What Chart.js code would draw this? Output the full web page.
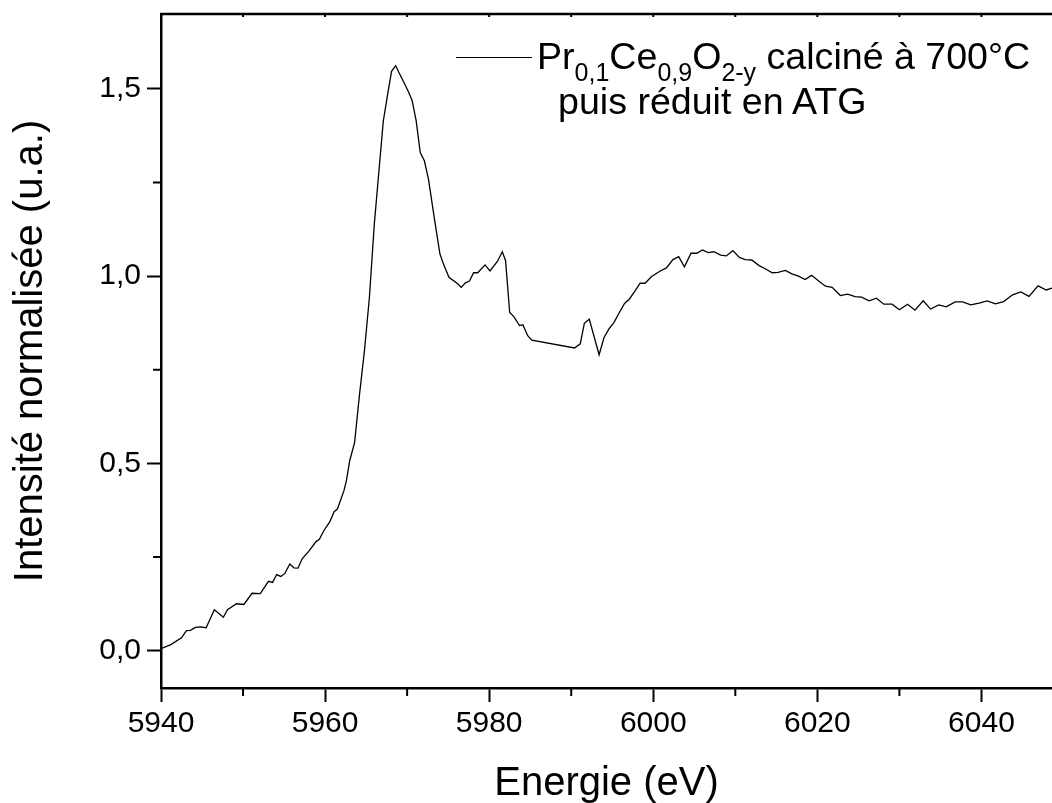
<!DOCTYPE html>
<html lang="fr">
<head>
<meta charset="utf-8">
<script src="https://cdn.jsdelivr.net/npm/chart.js@4.4.1/dist/chart.umd.min.js"></script>
<style>
html, body { margin: 0; padding: 0; background: #fff; overflow: hidden; }
#wrap { position: relative; width: 1052px; height: 803px; }
#legend {
    position: absolute; left: 456px; top: 34px;
    font-family: 'Liberation Sans', Arial, sans-serif; font-size: 37.6px; color: #000;
    line-height: 45px; white-space: nowrap;
}
#legend .sample { display: inline-block; width: 76px; height: 0; border-top: 1.3px solid #000; vertical-align: middle; margin-right: 5px; position: relative; top: -2px; }
#legend sub { font-size: 25px; vertical-align: -12px; line-height: 0; }
#legend .l2 { padding-left: 102px; }
</style>
</head>
<body>
<div id="wrap">
    <canvas id="mychart" width="1052" height="803"></canvas>
    <div id="legend"></div>
</div>
<script>
// energie (eV)
const energies = [
    5940.0, 5941.2, 5942.5, 5943.1, 5943.6, 5944.2, 5944.8, 5945.5, 5946.5, 5947.6,
    5948.1, 5949.2, 5950.1, 5951.1, 5952.1, 5953.1, 5953.6, 5954.1, 5954.6, 5955.1,
    5955.7, 5956.2, 5956.7, 5957.2, 5958.0, 5958.9, 5959.3, 5959.9, 5960.6, 5961.1,
    5961.5, 5962.3, 5962.6, 5963.0, 5963.6, 5964.2, 5964.8, 5965.4, 5966.0, 5966.6,
    5967.1, 5967.6, 5968.1, 5968.6, 5969.0, 5969.7, 5970.1, 5970.6, 5971.1, 5971.6,
    5972.1, 5972.6, 5973.3, 5974.0, 5974.5, 5975.1, 5976.0, 5976.6, 5977.1, 5977.6,
    5978.1, 5978.6, 5979.5, 5980.1, 5981.0, 5981.6, 5982.0, 5982.5, 5983.0, 5983.7,
    5984.1, 5984.7, 5985.2, 5990.4, 5991.1, 5991.6, 5992.2, 5993.4, 5994.0, 5994.6,
    5995.2, 5995.8, 5996.5, 5997.1, 5997.8, 5998.4, 5999.0, 5999.8, 6000.8, 6001.6,
    6002.4, 6003.1, 6003.8, 6004.6, 6005.3, 6006.0, 6006.7, 6007.4, 6008.2, 6008.9,
    6009.7, 6010.5, 6011.2, 6012.0, 6012.9, 6013.7, 6014.5, 6015.2, 6016.1, 6016.9,
    6017.7, 6018.5, 6019.3, 6020.2, 6021.0, 6021.8, 6022.8, 6023.7, 6024.6, 6025.4,
    6026.3, 6027.2, 6028.1, 6029.1, 6030.0, 6031.0, 6031.9, 6032.9, 6033.8, 6034.8,
    6035.7, 6036.8, 6037.7, 6038.7, 6039.7, 6040.7, 6041.7, 6042.7, 6043.8, 6044.8,
    6045.8, 6046.9, 6047.9, 6048.6
];
// intensite normalisee (u.a.)
const intensities = [
    0.005, 0.016, 0.034, 0.053, 0.054, 0.062, 0.063, 0.061, 0.109, 0.089,
    0.109, 0.125, 0.123, 0.153, 0.152, 0.185, 0.182, 0.203, 0.198, 0.206,
    0.231, 0.221, 0.220, 0.245, 0.265, 0.291, 0.297, 0.322, 0.345, 0.371,
    0.378, 0.427, 0.454, 0.507, 0.556, 0.685, 0.801, 0.943, 1.139, 1.290,
    1.415, 1.482, 1.547, 1.562, 1.544, 1.513, 1.495, 1.470, 1.415, 1.330,
    1.308, 1.259, 1.157, 1.059, 1.028, 0.997, 0.982, 0.970, 0.982, 0.987,
    1.009, 1.009, 1.030, 1.014, 1.039, 1.065, 1.041, 0.903, 0.892, 0.868,
    0.870, 0.841, 0.829, 0.808, 0.819, 0.874, 0.885, 0.790, 0.836, 0.859,
    0.876, 0.900, 0.927, 0.939, 0.961, 0.981, 0.981, 0.999, 1.013, 1.022,
    1.044, 1.052, 1.025, 1.061, 1.061, 1.070, 1.063, 1.065, 1.056, 1.054,
    1.068, 1.050, 1.044, 1.043, 1.028, 1.019, 1.009, 1.010, 1.015, 1.006,
    1.000, 0.991, 1.002, 0.986, 0.973, 0.970, 0.948, 0.952, 0.945, 0.944,
    0.934, 0.941, 0.925, 0.925, 0.910, 0.925, 0.909, 0.934, 0.912, 0.923,
    0.918, 0.931, 0.931, 0.923, 0.928, 0.934, 0.926, 0.932, 0.950, 0.958,
    0.946, 0.974, 0.963, 0.968
];

// graduations secondaires
const xMinor = [5950, 5970, 5990, 6010, 6030];
const xTop = [5950, 5960, 5970, 5980, 5990, 6000, 6010, 6020, 6030, 6040];
const yMinor = [0.25, 0.75, 1.25];

const seriesLabel = 'Pr0,1Ce0,9O2-y calciné à 700°C puis réduit en ATG';

Chart.defaults.font.family = "'Liberation Sans', Arial, sans-serif";
Chart.defaults.color = '#000';

const points = energies.map((e, i) => ({ x: e, y: intensities[i] }));

// cadre du haut + petites graduations
const frame = {
    id: 'frame',
    afterDraw(chart) {
        const { ctx, chartArea: a, scales: { x, y } } = chart;
        ctx.save();
        ctx.strokeStyle = '#000';
        ctx.lineWidth = 2.5;
        ctx.beginPath();
        ctx.moveTo(a.left - 1, a.top);
        ctx.lineTo(a.right, a.top);
        ctx.stroke();

        ctx.lineWidth = 2;
        ctx.beginPath();
        xMinor.forEach(v => {
            const px = x.getPixelForValue(v);
            ctx.moveTo(px, a.bottom);
            ctx.lineTo(px, a.bottom + 8);
        });
        xTop.forEach(v => {
            const px = x.getPixelForValue(v);
            ctx.moveTo(px, a.top);
            ctx.lineTo(px, a.top + 3);
        });
        yMinor.forEach(v => {
            const py = y.getPixelForValue(v);
            ctx.moveTo(a.left, py);
            ctx.lineTo(a.left - 8, py);
        });
        ctx.stroke();
        ctx.restore();
    }
};

const ctx = document.getElementById('mychart');

const lineChart = new Chart(ctx, {
    type: 'line',
    data: {
        datasets: [{
            label: seriesLabel,
            data: points,
            borderColor: '#000000',
            borderWidth: 1.3,
            pointRadius: 0,
            tension: 0,
            fill: false
        }]
    },
    options: {
        responsive: false,
        animation: false,
        devicePixelRatio: 1,
        layout: { padding: { top: 14, right: 0, left: 0, bottom: 0 } },
        plugins: {
            legend: { display: false },
            tooltip: { enabled: false }
        },
        scales: {
            x: {
                type: 'linear',
                min: 5940,
                max: 6048.6,
                afterFit: s => { s.height = 115; },
                border: { display: true, color: '#000', width: 2.5 },
                grid: { drawOnChartArea: false, drawTicks: true, tickLength: 14, tickWidth: 2, tickColor: '#000' },
                ticks: {
                    stepSize: 20,
                    includeBounds: false,
                    maxRotation: 0,
                    padding: 4,
                    font: { size: 30 },
                    callback: v => String(v)
                },
                title: {
                    display: true,
                    text: 'Energie (eV)',
                    font: { size: 40 },
                    padding: { top: 0, bottom: -5 }
                }
            },
            y: {
                min: -0.1,
                max: 1.7,
                afterFit: s => { s.width = 161; s.paddingTop = 0; s.paddingBottom = 0; },
                border: { display: true, color: '#000', width: 2.5 },
                grid: { drawOnChartArea: false, drawTicks: true, tickLength: 14, tickWidth: 2, tickColor: '#000' },
                ticks: {
                    stepSize: 0.5,
                    includeBounds: false,
                    padding: 6,
                    font: { size: 30 },
                    callback: v => Number(v).toFixed(1).replace('.', ',')
                },
                title: {
                    display: true,
                    text: 'Intensité normalisée (u.a.)',
                    font: { size: 40 },
                    padding: { top: 7, bottom: 0 }
                }
            }
        }
    },
    plugins: [frame]
});

// legende avec indices
const ds = lineChart.data.datasets[0];
document.getElementById('legend').innerHTML =
    '<div><span class="sample" style="border-top-color:' + ds.borderColor + '"></span>' +
    'Pr<sub>0,1</sub>Ce<sub>0,9</sub>O<sub>2-y</sub> calciné à 700°C</div>' +
    '<div class="l2">puis réduit en ATG</div>';
</script>
</body>
</html>
